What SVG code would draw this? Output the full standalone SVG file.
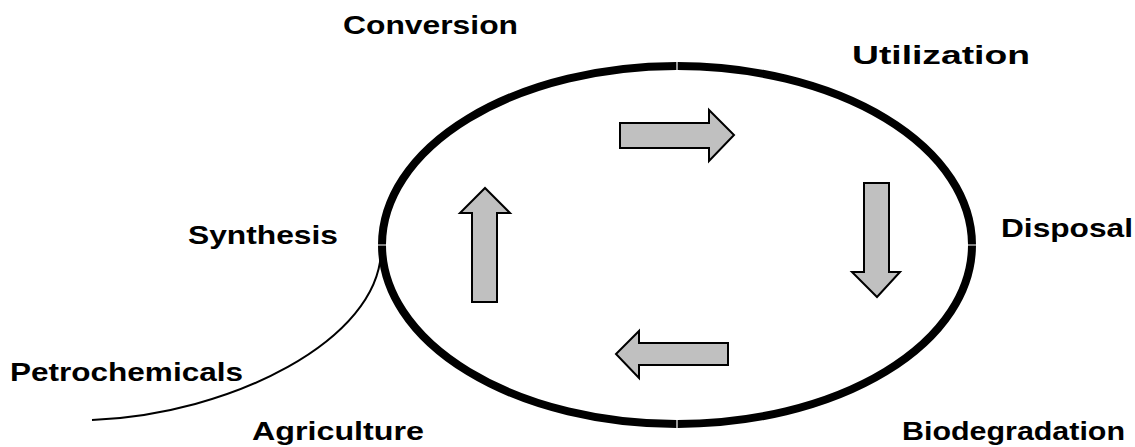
<svg xmlns="http://www.w3.org/2000/svg" width="1135" height="447" viewBox="0 0 1135 447">
<style>
.lbl{font-family:"Liberation Sans",Arial,sans-serif;font-weight:bold;font-size:26px;fill:#000}
.ring{fill:none;stroke:#000;stroke-width:8}
.arr{fill:#c0c0c0;stroke:#000;stroke-width:2;stroke-linejoin:miter}
.thin{fill:none;stroke:#000;stroke-width:2}
</style>
<rect width="1135" height="447" fill="#fff"/>
<g id="cycle">
<path class="ring" d="M677.6 66 A295 179 0 0 1 972 244.4"/>
<path class="ring" d="M972 245.6 A295 179 0 0 1 677.6 424"/>
<path class="ring" d="M676.4 424 A295 179 0 0 1 382 245.6"/>
<path class="ring" d="M382 244.4 A295 179 0 0 1 676.4 66"/>
</g>
<g id="connectors">
<path class="thin" d="M381 250 C380 340 230 415 92 420"/>
</g>
<g id="arrow-right"><polygon class="arr" points="620,123 709,123 709,110 734,135 709,161 709,148 620,148"/></g>
<g id="arrow-down"><polygon class="arr" points="864,183 889,183 889,272 900,272 877,297 852,272 864,272"/></g>
<g id="arrow-left"><polygon class="arr" points="728,343 639,343 639,331 616,354 639,378 639,365 728,365"/></g>
<g id="arrow-up"><polygon class="arr" points="472,302 472,213 460,213 485,188 510,213 497,213 497,302"/></g>
<g id="label-conversion"><text class="lbl" x="343" y="34" textLength="175" lengthAdjust="spacingAndGlyphs">Conversion</text></g>
<g id="label-utilization"><text class="lbl" x="852" y="64" textLength="178" lengthAdjust="spacingAndGlyphs">Utilization</text></g>
<g id="label-synthesis"><text class="lbl" x="188" y="244" textLength="150" lengthAdjust="spacingAndGlyphs">Synthesis</text></g>
<g id="label-disposal"><text class="lbl" x="1001" y="237" textLength="132" lengthAdjust="spacingAndGlyphs">Disposal</text></g>
<g id="label-petrochemicals"><text class="lbl" x="10" y="381" textLength="233" lengthAdjust="spacingAndGlyphs">Petrochemicals</text></g>
<g id="label-agriculture"><text class="lbl" x="252" y="440" textLength="172" lengthAdjust="spacingAndGlyphs">Agriculture</text></g>
<g id="label-biodegradation"><text class="lbl" x="902" y="440" textLength="223" lengthAdjust="spacingAndGlyphs">Biodegradation</text></g>
</svg>
